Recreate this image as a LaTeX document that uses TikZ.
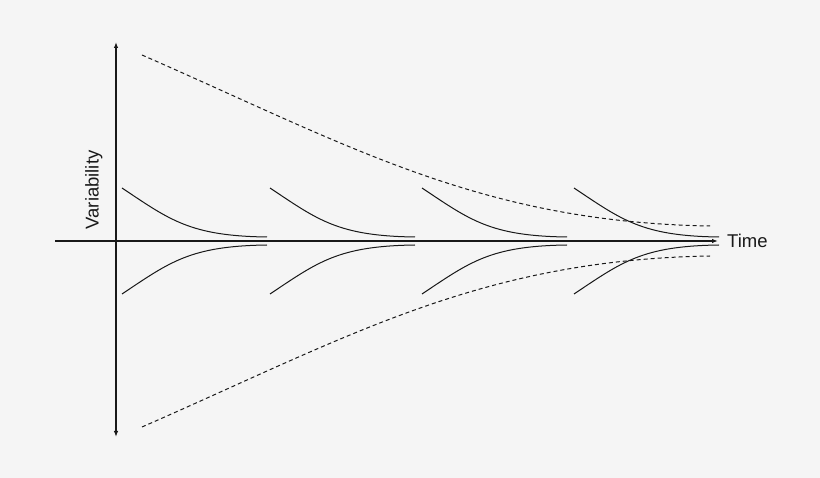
\documentclass[tikz,border=0pt]{standalone}
\usepackage{fontspec}
\setmainfont{Liberation Sans}
\usetikzlibrary{arrows.meta}
\definecolor{bg}{RGB}{245,245,245}
\definecolor{ink}{RGB}{25,25,25}
\tikzset{
  axis/.style={draw=ink, line width=1.2pt},
  tip/.style={-{Latex[length=6pt,width=4.5pt]}},
  decay/.style={draw=ink, line width=1pt},
  envelope/.style={draw=ink, line width=1pt, dash pattern=on 4pt off 3pt},
  label/.style={font=\fontsize{18.5}{21}\selectfont, text=ink, inner sep=0pt}
}
\begin{document}
\begin{tikzpicture}[x=1pt,y=-1pt]
\fill[bg] (0,0) rectangle (820,478);
\useasboundingbox (0,0) rectangle (820,478);
% axes
\coordinate (vtop) at (116,42);
\coordinate (vbot) at (116,437);
\coordinate (hleft) at (55,241);
\coordinate (hright) at (718,241);
\draw[axis,{Latex[length=6pt,width=4.5pt]}-{Latex[length=6pt,width=4.5pt]}] (vbot) -- (vtop);
\draw[axis,tip] (hleft) -- (hright);
\node[label,anchor=west] (time) at (727,241) {Time};
\node[label,rotate=90,anchor=base] (var) at (98.5,190) {Variability};
% envelopes
\draw[envelope] (142,55) .. controls (350,146) and (480,222) .. (710,226);
\draw[envelope] (142,427) .. controls (350,336) and (480,260) .. (710,256);
% decay curves
\foreach \x in {122,270,422,574}{
  \draw[decay] (\x,188) .. controls (\x+48,220) and (\x+68,236) .. (\x+145,237);
  \draw[decay] (\x,294) .. controls (\x+48,262) and (\x+68,246) .. (\x+145,245);
}
\end{tikzpicture}
\end{document}
